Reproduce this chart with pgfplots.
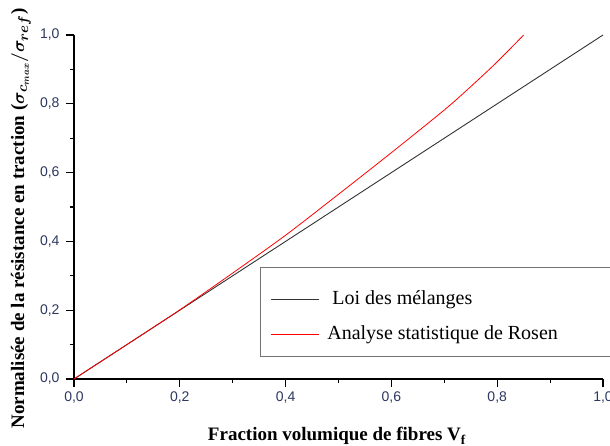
\documentclass[border=0pt]{standalone}
\usepackage{pgfplots}
\pgfplotsset{compat=1.18}
\usepackage{fontspec}
\setmainfont{Liberation Serif}
\setsansfont{Liberation Sans}
\usepackage{bm}
\definecolor{ticknavy}{RGB}{45,55,95}
\begin{document}
\begin{tikzpicture}
\clip (-74pt,-67pt) rectangle (536pt,379pt);
\begin{axis}[
  at={(0pt,0pt)}, anchor=south west,
  scale only axis, width=529pt, height=344pt,
  xmin=0, xmax=1, ymin=0, ymax=1,
  clip=false,
  axis x line*=bottom, axis y line*=left,
  axis line style={line width=1.5pt, black},
  tick align=outside,
  major tick length=8pt, minor tick length=4pt,
  every tick/.style={black, line width=1.2pt},
  xtick distance=0.2, ytick distance=0.2, minor tick num=1,
  ticklabel style={font=\sffamily\fontsize{14}{14}\selectfont, color=ticknavy},
  xticklabel style={yshift=-1pt},
  yticklabel style={xshift=-3pt},
  /pgf/number format/use comma,
  /pgf/number format/fixed,
  /pgf/number format/fixed zerofill,
  /pgf/number format/precision=1,
  /pgf/number format/assume math mode=true,
  xlabel={\bfseries Fraction volumique de fibres V\textsubscript{f}},
  ylabel={\bfseries Normalisée de la résistance en traction ($\bm{\sigma_{c_{max}}/\sigma_{ref}}$)},
  label style={font=\fontsize{19}{19}\selectfont},
  xlabel style={at={(axis description cs:0.497,-0.180)}, anchor=base},
  ylabel style={at={(axis description cs:-0.1002,0.4666)}, anchor=center},
  legend cell align=left,
  legend image code/.code={\draw[#1] (0pt,0pt) -- (48pt,0pt);},
  legend style={draw=none, fill=none, inner sep=0pt, row sep=17pt, column sep=8pt,
    nodes={inner sep=0pt, font=\fontsize{20}{20}\selectfont, text height=14pt, text depth=4pt},
    at={(axis cs:0.371,0.2587)}, anchor=north west},
]
\draw[black!55, line width=1pt] (axis cs:0.352,0.064) rectangle (axis cs:1.2,0.323);
\addplot[black!80, line width=0.9pt] coordinates {(0,0) (1,1)};
\addlegendentry{\hspace{5pt}Loi des mélanges}
\addplot[red, line width=0.8pt, smooth] coordinates {
(0,0) (0.1,0.1) (0.2,0.201) (0.3,0.308) (0.4,0.418) (0.5,0.537)
(0.6,0.658) (0.7,0.782) (0.75,0.85) (0.8,0.922) (0.85,1.0)};
\addlegendentry{Analyse statistique de Rosen}
\end{axis}
\end{tikzpicture}
\end{document}
